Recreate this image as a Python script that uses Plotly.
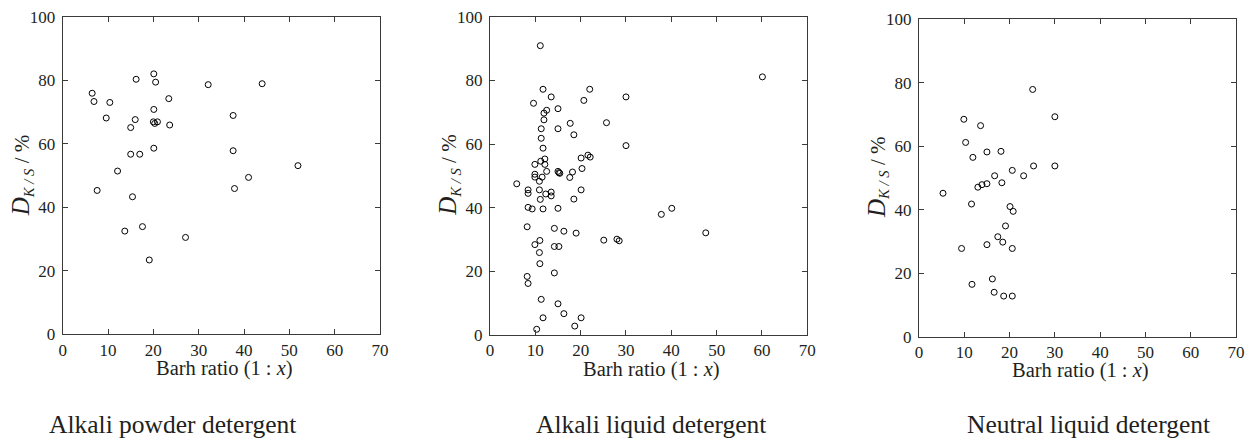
import plotly.graph_objects as go

# ---- data ----
powder_x = [6.5, 6.9, 10.4, 9.6, 7.6, 16.2, 20.1, 20.5, 32.1, 44.0, 23.4, 20.1, 16.0, 20.0, 20.3, 20.9,
            23.6, 15.0, 37.6, 15.0, 17.0, 20.1, 37.6, 12.1, 51.9, 41.0, 37.9, 15.4, 13.7, 17.6, 27.1, 19.1]
powder_y = [75.9, 73.3, 73.0, 68.1, 45.3, 80.3, 82.0, 79.4, 78.6, 78.9, 74.2, 70.8, 67.6, 66.9, 66.4, 66.9,
            65.9, 65.1, 68.9, 56.7, 56.7, 58.6, 57.8, 51.4, 53.1, 49.4, 45.9, 43.3, 32.5, 33.9, 30.5, 23.4]

liquid_x = [11.1, 60.1, 11.7, 22.0, 13.5, 30.0, 20.7, 9.6, 15.0, 12.5, 11.9, 11.9, 17.7, 25.7, 11.3, 15.0,
            18.5, 11.3, 11.7, 30.0, 21.6, 22.1, 20.1, 12.1, 11.2, 9.9, 12.1, 20.3, 15.0, 15.2, 15.4, 12.5,
            18.2, 9.9, 9.9, 11.5, 17.6, 10.9, 5.9, 8.4, 10.9, 20.1, 8.4, 12.3, 13.5, 13.5, 11.1, 18.5,
            8.4, 9.3, 11.7, 15.0, 37.8, 40.1, 8.2, 14.2, 16.3, 19.0, 47.6, 11.0, 25.1, 28.0, 28.5, 9.9,
            14.2, 15.2, 10.9, 11.0, 14.2, 8.2, 8.4, 11.3, 15.0, 16.3, 11.7, 20.1, 18.7, 10.3]
liquid_y = [90.9, 81.1, 77.2, 77.2, 74.8, 74.8, 73.7, 72.8, 71.1, 70.6, 69.7, 67.6, 66.5, 66.7, 64.8, 64.8,
            62.9, 61.8, 58.7, 59.5, 56.5, 55.9, 55.6, 55.3, 54.6, 53.6, 53.6, 52.3, 51.4, 51.0, 50.8, 51.4,
            51.2, 50.5, 49.6, 49.6, 49.5, 48.3, 47.5, 45.6, 45.6, 45.6, 44.5, 44.3, 44.9, 43.7, 42.6, 42.7,
            40.1, 39.6, 39.6, 39.8, 37.9, 39.8, 34.0, 33.5, 32.6, 32.0, 32.1, 29.7, 29.8, 30.1, 29.6, 28.4,
            27.8, 27.8, 25.9, 22.4, 19.5, 18.4, 16.2, 11.2, 9.8, 6.7, 5.4, 5.4, 2.8, 1.8]

neutral_x = [25.1, 30.0, 9.9, 13.6, 10.3, 11.9, 15.0, 18.1, 20.6, 25.3, 30.0, 16.7, 23.1, 18.3, 15.0, 13.9,
             13.0, 5.3, 11.6, 20.1, 20.8, 19.1, 17.4, 18.5, 15.0, 9.4, 20.6, 16.2, 11.7, 16.6, 18.7, 20.6]
neutral_y = [77.9, 69.3, 68.5, 66.5, 61.2, 56.5, 58.2, 58.4, 52.4, 53.8, 53.8, 50.7, 50.7, 48.5, 48.2, 47.9,
             47.1, 45.2, 41.8, 41.0, 39.5, 34.9, 31.5, 29.8, 29.0, 27.8, 27.8, 18.2, 16.5, 14.0, 12.8, 12.8]

panel_titles = ["Alkali powder detergent", "Alkali liquid detergent", "Neutral liquid detergent"]
x_ticks = [0, 10, 20, 30, 40, 50, 60, 70]
y_ticks = [0, 20, 40, 60, 80, 100]

series = [(powder_x, powder_y), (liquid_x, liquid_y), (neutral_x, neutral_y)]

FONT = "Liberation Serif"
AX_COLOR = "#3a3a3a"
TXT_COLOR = "#231f20"
W, H = 1251, 441

# pixel boxes of the three plot areas: (left, right, top, bottom)
boxes = [(62.7, 380.0, 16.7, 334.3), (490.0, 807.3, 16.7, 335.0), (919.0, 1236.0, 19.3, 336.7)]
subtitle_cx = [172, 651, 1088]

fig = go.Figure()
layout = dict(
    width=W, height=H,
    margin=dict(l=0, r=0, t=0, b=0),
    paper_bgcolor="white", plot_bgcolor="white",
    showlegend=False,
    font=dict(family=FONT, color=TXT_COLOR, size=16),
)

annotations = []
ytitle = ("<i><span style='font-size:25px'>D</span></i><sub><i>K / S</i></sub>"
          "<span style='font-size:21px'> / %</span>")

for i, ((xs, ys), (l, r, t, b)) in enumerate(zip(series, boxes)):
    n = "" if i == 0 else str(i + 1)
    fig.add_trace(go.Scatter(
        x=xs, y=ys, mode="markers",
        marker=dict(symbol="circle-open", size=6, color="black", line=dict(width=1, color="black")),
        xaxis="x" + n, yaxis="y" + n,
    ))
    axcommon = dict(
        showgrid=False, zeroline=False, showline=True, linecolor=AX_COLOR, linewidth=1,
        mirror="ticks", ticks="inside", ticklen=5, tickwidth=1, tickcolor=AX_COLOR,
        tickfont=dict(family=FONT, size=17, color=TXT_COLOR), automargin=False,
        ticklabeloverflow="allow",
    )
    layout["xaxis" + n] = dict(
        axcommon, domain=[l / W, r / W], range=[0, 70], tickvals=x_ticks, anchor="y" + n,
    )
    layout["yaxis" + n] = dict(
        axcommon, domain=[1 - b / H, 1 - t / H], range=[0, 100], tickvals=y_ticks, anchor="x" + n,
        ticklabelstandoff=3,
    )
    # x-axis title
    annotations.append(dict(
        text="Barh ratio (1 : <i>x</i>)", xref="paper", yref="paper",
        x=((l + r) / 2 + 3) / W, y=1 - (b + 34) / H, xanchor="center", yanchor="middle",
        showarrow=False, font=dict(family=FONT, size=20.5, color=TXT_COLOR),
    ))
    # y-axis title
    annotations.append(dict(
        text=ytitle, xref="paper", yref="paper", textangle=-90,
        x=(l - 41) / W, y=1 - ((t + b) / 2) / H, xanchor="center", yanchor="middle",
        showarrow=False, font=dict(family=FONT, size=21, color=TXT_COLOR),
    ))
    # panel caption
    annotations.append(dict(
        text=panel_titles[i], xref="paper", yref="paper",
        x=subtitle_cx[i] / W, y=1 - 424 / H, xanchor="center", yanchor="middle",
        showarrow=False, font=dict(family=FONT, size=25.5, color=TXT_COLOR),
    ))

layout["annotations"] = annotations
fig.update_layout(**layout)
fig.write_html("out.html", config={"displayModeBar": False},
               post_script="document.body.style.margin='0';document.body.style.overflow='hidden';")
